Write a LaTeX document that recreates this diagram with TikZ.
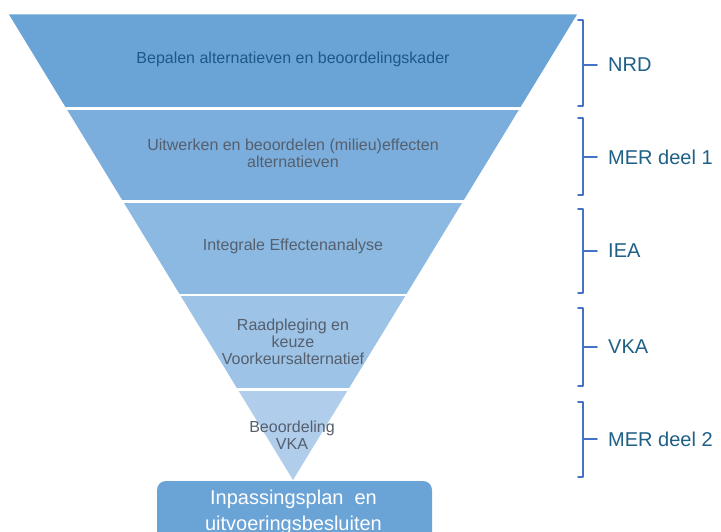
\documentclass[tikz,border=0pt]{standalone}
\usepackage{fontspec}
\setmainfont{Liberation Sans}
\definecolor{lay1}{RGB}{106,163,214}
\definecolor{lay2}{RGB}{123,174,220}
\definecolor{lay3}{RGB}{140,185,225}
\definecolor{lay4}{RGB}{157,195,230}
\definecolor{lay5}{RGB}{176,206,235}
\definecolor{boxc}{RGB}{106,163,214}
\definecolor{txtdark}{RGB}{30,88,135}
\definecolor{txtgrey}{RGB}{85,95,110}
\definecolor{brk}{RGB}{68,114,196}
\definecolor{lbl}{RGB}{31,96,135}
\tikzset{
  laytext/.style={align=center, text=txtgrey, font=\fontsize{16}{17}\selectfont, inner sep=0pt},
  brace/.style={draw=brk, line width=1.6pt, line cap=round, line join=round},
  lbltext/.style={anchor=west, text=lbl, font=\fontsize{20}{22}\selectfont, inner sep=0pt},
  gap/.style={draw=white, line width=2.6pt}
}
\begin{document}
\begin{tikzpicture}[x=1pt,y=-1pt]
\useasboundingbox (0,0) rectangle (721,532);
\fill[white] (0,0) rectangle (721,532);
% bottom box
\fill[boxc, rounded corners=9pt] (157,481) rectangle (432,560);
\node[align=center, text=white, font=\fontsize{20}{25.5}\selectfont, inner sep=0pt, anchor=north] (box) at (293.5,490) {Inpassingsplan\ \ en\\uitvoeringsbesluiten};
% funnel
\begin{scope}
\clip (9,14.5) -- (577,14.5) -- (293,480) -- cycle;
\fill[lay1] (0,0) rectangle (721,108.3);
\fill[lay2] (0,108.3) rectangle (721,201.7);
\fill[lay3] (0,201.7) rectangle (721,295);
\fill[lay4] (0,295) rectangle (721,389.3);
\fill[lay5] (0,389.3) rectangle (721,490);
\end{scope}
\draw[gap] (0,108.3) -- (600,108.3);
\draw[gap] (0,201.7) -- (600,201.7);
\draw[gap] (0,295) -- (600,295);
\draw[gap] (0,389.3) -- (600,389.3);
% layer texts
\node[laytext, text=txtdark] (t1) at (293,59) {Bepalen alternatieven en beoordelingskader};
\node[laytext] (t2) at (293,153.5) {Uitwerken en beoordelen (milieu)effecten\\alternatieven};
\node[laytext] (t3) at (293,246) {Integrale Effectenanalyse};
\node[laytext] (t4) at (293,341.5) {Raadpleging en\\keuze\\Voorkeursalternatief};
\node[laytext] (t5) at (292,435.5) {Beoordeling\\VKA};
% brackets
\foreach \a/\b/\m/\name/\txt in {20/106/65/nrd/NRD, 118/195/157/mer1/MER deel 1, 209/293/251/iea/IEA, 308/386/347/vka/VKA, 402/477/439/mer2/MER deel 2}{
  \draw[brace] (578,\a) -- (583,\a) -- (583,\b) -- (578,\b);
  \coordinate (\name-a) at (583,\m);
  \coordinate (\name-b) at (597,\m);
  \draw[brace] (\name-a) -- (\name-b);
  \node[lbltext] (\name) at (608,\m) {\txt};
}
\end{tikzpicture}
\end{document}
